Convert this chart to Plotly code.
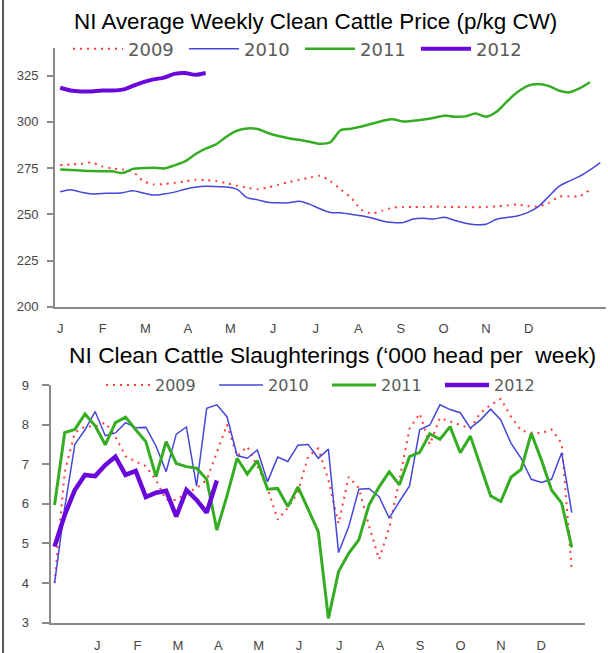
import plotly.graph_objects as go

MONTHS = ["J", "F", "M", "A", "M", "J", "J", "A", "S", "O", "N", "D"]
YEARS = ["2009", "2010", "2011", "2012"]

TITLE_PRICE = "NI Average Weekly Clean Cattle Price (p/kg CW)"
TITLE_SLAUGHTER = "NI Clean Cattle Slaughterings (\u2018000 head per\u00a0 week)"

price_2009 = [276.6, 277.0, 277.3, 278.0, 276.0, 274.8, 274.3, 273.0, 268.0, 266.2,
              266.4, 267.0, 267.8, 268.7, 268.5, 268.0, 266.8, 265.5, 264.4, 263.5,
              264.5, 266.0, 267.4, 268.7, 269.8, 270.8, 268.0, 263.5, 259.0, 252.5,
              250.5, 252.0, 253.5, 254.0, 254.0, 254.0, 254.2, 254.0, 254.0, 254.0,
              253.8, 254.0, 254.3, 254.8, 255.3, 254.5, 254.3, 256.0, 259.5, 259.8,
              259.8, 263.4]
price_2010 = [262.2, 263.3, 262.0, 261.0, 261.3, 261.4, 261.7, 262.7, 261.5, 260.4,
              261.0, 262.0, 263.6, 264.7, 265.2, 265.0, 264.8, 263.6, 259.0, 257.8,
              256.5, 256.2, 256.2, 257.1, 255.5, 253.0, 251.0, 250.8, 250.0, 249.2,
              248.0, 246.4, 245.6, 245.5, 247.5, 247.8, 247.5, 248.4, 246.6, 245.2,
              244.4, 244.6, 247.3, 248.3, 249.1, 250.9, 254.0, 259.5, 265.0, 268.0,
              270.5, 274.0, 278.0]
price_2011 = [274.3, 274.0, 273.7, 273.4, 273.3, 273.3, 272.3, 274.6, 275.0, 275.2,
              274.8, 276.5, 278.6, 282.5, 285.5, 287.8, 292.0, 295.2, 296.5, 296.2,
              294.0, 292.4, 291.2, 290.3, 289.3, 288.2, 289.0, 295.5, 296.3, 297.5,
              299.0, 300.5, 301.5, 300.2, 300.6, 301.3, 302.3, 303.4, 302.8, 303.0,
              304.5, 302.8, 305.5, 311.0, 316.0, 319.5, 320.5, 319.5, 317.0, 316.0,
              318.2, 321.5]
price_2012 = [318.5, 317.0, 316.5, 316.5, 317.0, 317.0, 317.5, 319.5, 321.5, 323.0,
              324.0, 326.0, 326.5, 325.5, 326.5]

slaughter_2009 = [4.0, 6.8, 7.8, 7.95, 7.95, 8.05, 7.7, 7.2, 7.07, 6.95,
                  6.6, 6.1, 6.1, 6.27, 6.4, 6.6, 7.3, 8.0, 7.2, 7.45,
                  6.95, 6.4, 5.6, 5.9, 6.3, 7.2, 7.4, 6.6, 5.5, 6.68,
                  6.4, 5.45, 4.6, 5.4, 6.6, 7.9, 8.28, 7.5, 8.17, 8.08,
                  8.0, 7.9, 8.3, 8.5, 8.65, 8.2, 7.85, 7.8, 7.78, 7.88,
                  7.53, 4.33]
slaughter_2010 = [4.0, 5.9, 7.5, 7.87, 8.33, 7.72, 7.79, 8.05, 7.92, 7.93,
                  7.46, 6.81, 7.76, 7.94, 6.45, 8.41, 8.5, 8.2, 7.22, 7.15,
                  7.36, 6.56, 7.18, 7.07, 7.48, 7.5, 7.15, 7.38, 4.77, 5.42,
                  6.37, 6.39, 6.18, 5.64, 6.06, 6.45, 7.87, 7.99, 8.5, 8.38,
                  8.3, 7.91, 8.12, 8.39, 8.12, 7.53, 7.15, 6.62, 6.54, 6.62,
                  7.29, 5.78]
slaughter_2011 = [5.97, 7.8, 7.88, 8.27, 7.97, 7.49, 8.05, 8.19, 7.87, 7.57,
                  6.69, 7.57, 7.02, 6.94, 6.9, 6.62, 5.34, 6.2, 7.15, 6.75,
                  7.09, 6.37, 6.39, 5.93, 6.43, 5.87, 5.3, 3.11, 4.29, 4.75,
                  5.09, 5.97, 6.43, 6.81, 6.48, 7.19, 7.3, 7.77, 7.63, 7.95,
                  7.29, 7.71, 6.96, 6.2, 6.06, 6.67, 6.87, 7.78, 7.11, 6.35,
                  6.02, 4.9]
slaughter_2012 = [4.92, 5.72, 6.35, 6.73, 6.70, 6.98, 7.19, 6.73, 6.83, 6.17,
                  6.28, 6.33, 5.68, 6.35, 6.10, 5.78, 6.59]

PRICE_TICKS = [200, 225, 250, 275, 300, 325]
SLAUGHTER_TICKS = [3, 4, 5, 6, 7, 8, 9]

# styles
COLORS = {"2009": "#ff3b3b", "2010": "#4646d8", "2011": "#35ad22", "2012": "#6a08dc"}
WIDTHS_TOP = {"2009": 2, "2010": 1.5, "2011": 2.5, "2012": 4}
WIDTHS_BOT = {"2009": 2, "2010": 1.5, "2011": 3, "2012": 4.5}
DASH = {"2009": "2px,5px", "2010": "solid", "2011": "solid", "2012": "solid"}

W, H = 608, 653
def px_x(p):
    return p / W
def px_y(p):
    return 1 - p / H

fig = go.Figure()

price_series = dict(zip(YEARS, [price_2009, price_2010, price_2011, price_2012]))
slaughter_series = dict(zip(YEARS, [slaughter_2009, slaughter_2010, slaughter_2011, slaughter_2012]))

for yr in YEARS:
    vals = price_series[yr]
    fig.add_trace(go.Scatter(
        x=list(range(1, len(vals) + 1)), y=vals, name=yr, mode="lines",
        line=dict(color=COLORS[yr], width=WIDTHS_TOP[yr], dash=DASH[yr],
                  shape="spline", smoothing=0.8),
        xaxis="x", yaxis="y", legend="legend"))

for yr in YEARS:
    vals = slaughter_series[yr]
    fig.add_trace(go.Scatter(
        x=list(range(1, len(vals) + 1)), y=vals, name=yr, mode="lines",
        line=dict(color=COLORS[yr], width=WIDTHS_BOT[yr], dash=DASH[yr]),
        xaxis="x2", yaxis="y2", legend="legend2"))

axis_common = dict(showgrid=False, zeroline=False, showline=True, automargin=False,
                   linecolor="#8a8a8a", linewidth=2,
                   tickfont=dict(family="Arial", size=13, color="#454545"))

top_month_pos = [1.0 + 4.1 * i for i in range(len(MONTHS))]
bot_month_pos = [5.2 + 3.98 * i for i in range(len(MONTHS))]

fig.update_layout(
    width=W, height=H,
    margin=dict(l=0, r=0, t=0, b=0, autoexpand=False),
    paper_bgcolor="white", plot_bgcolor="white",
    font=dict(family="Arial", color="#333"),
    xaxis=dict(**axis_common, domain=[px_x(55), px_x(605.5)], range=[0.5, 53.5],
               tickmode="array", tickvals=top_month_pos, ticktext=MONTHS,
               ticks="", ticklabelstandoff=9, anchor="y"),
    yaxis=dict(**axis_common, domain=[px_y(306.7), px_y(48)], range=[200, 340],
               tickmode="array", tickvals=PRICE_TICKS, ticks="outside", ticklen=6,
               tickwidth=1.5, tickcolor="#8a8a8a", ticklabelstandoff=6, anchor="x"),
    xaxis2=dict(**axis_common, domain=[px_x(50.5), px_x(585)], range=[0.6, 53.3],
                tickmode="array", tickvals=bot_month_pos, ticktext=MONTHS,
                ticks="", ticklabelstandoff=10, anchor="y2"),
    yaxis2=dict(**axis_common, domain=[px_y(622.7), px_y(385)], range=[3, 9],
                tickmode="array", tickvals=SLAUGHTER_TICKS, ticks="outside", ticklen=7,
                tickwidth=1.5, tickcolor="#8a8a8a", ticklabelstandoff=10, anchor="x2"),
    legend=dict(orientation="h", x=px_x(68), y=px_y(49), xanchor="left", yanchor="middle",
                bgcolor="rgba(0,0,0,0)", itemwidth=50,
                entrywidthmode="pixels", entrywidth=51,
                font=dict(family="DejaVu Sans", size=18, color="#5a5a5a"),
                tracegroupgap=0),
    legend2=dict(orientation="h", x=px_x(101), y=px_y(385), xanchor="left", yanchor="middle",
                 bgcolor="rgba(0,0,0,0)", itemwidth=44,
                 entrywidthmode="pixels", entrywidth=54,
                 font=dict(family="DejaVu Sans", size=16, color="#5a5a5a"),
                 tracegroupgap=0),
    annotations=[
        dict(text=TITLE_PRICE, x=px_x(315), y=px_y(21), xref="paper", yref="paper",
             xanchor="center", yanchor="middle", showarrow=False,
             font=dict(family="Arial", size=22.4, color="#000")),
        dict(text=TITLE_SLAUGHTER, x=px_x(332), y=px_y(355), xref="paper", yref="paper",
             xanchor="center", yanchor="middle", showarrow=False,
             font=dict(family="Arial", size=22.8, color="#000")),
    ],
    shapes=[
        dict(type="line", xref="paper", yref="paper", x0=px_x(3), x1=px_x(3), y0=0, y1=1,
             line=dict(color="#222", width=1.5)),
    ],
)

fig.write_html(
    "out.html",
    config={"displayModeBar": False},
    post_script="document.body.style.margin='0';document.body.style.overflow='hidden';",
)
